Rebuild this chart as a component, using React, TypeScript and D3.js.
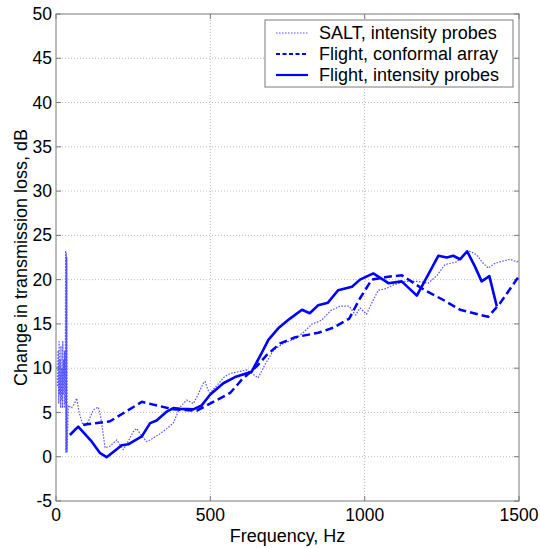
import React, {useEffect, useRef} from 'react'
import * as d3 from 'd3'

// SALT, intensity probes (dotted)
const saltFreq = [5, 7, 9, 10, 12, 13, 15, 16, 18, 19, 21, 22, 24, 25, 27, 28, 30, 31, 32, 33, 34, 35, 36,
  40, 50, 60, 67, 75, 85, 94, 105, 121, 137, 145, 159, 175, 197, 210, 218, 235, 250, 261, 275, 294, 310,
  337, 360, 380, 402, 423, 434, 445, 460, 477, 483, 493, 499, 520, 545, 564, 590, 618, 635, 655, 677, 704,
  736, 775, 800, 830, 860, 890, 920, 950, 970, 985, 1006, 1025, 1044, 1070, 1093, 1131, 1169, 1206, 1235,
  1260, 1298, 1320, 1341, 1363, 1380, 1400, 1420, 1438, 1471, 1493, 1500];
const saltDb = [8, 12, 6, 13, 7, 11, 5.5, 12.5, 6.5, 10, 5.5, 13, 7, 11, 5.5, 12, 6, 23.3, 0.5, 23, 0.8, 22.5, 0.5,
  5.8, 5.5, 6, 6.6, 5, 3.8, 3.4, 4, 5.3, 5.6, 4.5, 1.0, 1.2, 1.9, 1.2, 0.8, 1.8, 2.8, 3.2, 2.5, 1.7, 2.0,
  2.6, 3.2, 3.8, 5.6, 6.4, 6.2, 6.0, 7.0, 8.3, 8.5, 7.5, 7.2, 8.0, 9.0, 9.4, 9.6, 9.8, 9.4, 8.9, 10.4, 12.0,
  12.8, 13.3, 14.0, 15.0, 15.4, 16.5, 17.0, 17.0, 16.0, 16.8, 16.1, 17.5, 18.8, 19.0, 19.4, 19.8, 19.8, 19.6, 20.5,
  21.7, 22.0, 22.8, 23.2, 22.8, 22.0, 21.3, 21.8, 22.0, 22.3, 22.0, 22.2];

// Flight, conformal array (dashed)
const confFreq = [88, 175, 278, 380, 456, 499, 564, 602, 650, 683, 726, 775, 850, 900, 950, 985, 1023,
  1071, 1120, 1195, 1255, 1309, 1400, 1438, 1498];
const confDb = [3.6, 4.0, 6.2, 5.35, 5.2, 6.0, 7.2, 8.7, 10.2, 11.5, 12.8, 13.5, 14.0, 14.6, 15.6, 17.9, 20.0,
  20.3, 20.5, 18.8, 17.7, 16.6, 15.8, 17.3, 20.3];

// Flight, intensity probes (solid)
const flightFreq = [45, 72, 116, 143, 164, 213, 234, 278, 305, 326, 359, 380, 402, 445, 472, 499, 542, 580,
  634, 666, 688, 720, 758, 797, 822, 849, 881, 914, 959, 985, 1028, 1077, 1120, 1169, 1239, 1266, 1287, 1309,
  1332, 1357, 1379, 1404, 1428];
const flightDb = [2.45, 3.4, 1.7, 0.4, -0.05, 1.3, 1.4, 2.3, 3.8, 4.1, 5.1, 5.5, 5.4, 5.35, 5.8, 7.0, 8.3, 9.0,
  9.6, 11.7, 13.2, 14.5, 15.6, 16.6, 16.2, 17.1, 17.4, 18.8, 19.2, 20.0, 20.7, 19.6, 19.8, 18.2, 22.7, 22.5, 22.7, 22.3,
  23.2, 21.5, 19.8, 20.4, 17.0];

const xTicks = [0, 500, 1000, 1500];
const yTicks = [-5, 0, 5, 10, 15, 20, 25, 30, 35, 40, 45, 50];

const legendLabels = ['SALT, intensity probes', 'Flight, conformal array', 'Flight, intensity probes'];

const App = () => {
  const ref = useRef<SVGSVGElement>(null);
  const width = 540, height = 548;
  const margin = {top: 14, right: 21, bottom: 47, left: 56};

  useEffect(() => {
    const svg = d3.select(ref.current);
    svg.selectAll('*').remove();
    const w = width - margin.left - margin.right;
    const h = height - margin.top - margin.bottom;
    const font = 'Arial, "Liberation Sans", sans-serif';

    const x = d3.scaleLinear().domain([0, 1500]).range([0, w]);
    const y = d3.scaleLinear().domain([-5, 50]).range([h, 0]);

    svg.append('rect').attr('width', width).attr('height', height).attr('fill', 'white');

    const g = svg.append('g').attr('transform', `translate(${margin.left},${margin.top})`);

    // grid
    g.append('g').selectAll('line').data(xTicks.slice(1, -1)).enter().append('line')
      .attr('x1', d => x(d)).attr('x2', d => x(d)).attr('y1', 0).attr('y2', h)
      .attr('stroke', '#bdbdbd').attr('stroke-width', 1).attr('stroke-dasharray', '1,2');
    g.append('g').selectAll('line').data(yTicks.slice(1, -1)).enter().append('line')
      .attr('y1', d => y(d)).attr('y2', d => y(d)).attr('x1', 0).attr('x2', w)
      .attr('stroke', '#bdbdbd').attr('stroke-width', 1).attr('stroke-dasharray', '1,2');

    // inward ticks
    const tk = 5;
    yTicks.forEach(t => {
      g.append('line').attr('x1', 0).attr('x2', tk).attr('y1', y(t)).attr('y2', y(t)).attr('stroke', '#7a7a7a');
      g.append('line').attr('x1', w - tk).attr('x2', w).attr('y1', y(t)).attr('y2', y(t)).attr('stroke', '#7a7a7a');
    });
    xTicks.forEach(t => {
      g.append('line').attr('x1', x(t)).attr('x2', x(t)).attr('y1', h).attr('y2', h - tk).attr('stroke', '#7a7a7a');
      g.append('line').attr('x1', x(t)).attr('x2', x(t)).attr('y1', 0).attr('y2', tk).attr('stroke', '#7a7a7a');
    });

    // frame
    g.append('rect').attr('width', w).attr('height', h).attr('fill', 'none')
      .attr('stroke', '#7a7a7a').attr('stroke-width', 1);

    // tick labels
    g.append('g').selectAll('text').data(yTicks).enter().append('text')
      .attr('x', -4).attr('y', d => y(d)).attr('dy', '0.35em').attr('text-anchor', 'end')
      .attr('font-family', font).attr('font-size', 17.5).text(d => d);
    g.append('g').selectAll('text').data(xTicks).enter().append('text')
      .attr('x', d => x(d)).attr('y', h + 20).attr('text-anchor', 'middle')
      .attr('font-family', font).attr('font-size', 17.5).text(d => d);

    // axis labels
    g.append('text').attr('x', w / 2).attr('y', h + 41).attr('text-anchor', 'middle')
      .attr('font-family', font).attr('font-size', 18).text('Frequency, Hz');
    g.append('text').attr('transform', `translate(${-29},${h / 2}) rotate(-90)`).attr('text-anchor', 'middle')
      .attr('font-family', font).attr('font-size', 18).text('Change in transmission loss, dB');

    const line = d3.line<[number, number]>().x(d => x(d[0])).y(d => y(d[1]));
    const styles = [
      {stroke: '#5050ff', width: 1.2, dash: '1.5,1.5'},
      {stroke: '#0000ff', width: 2.5, dash: '8,4'},
      {stroke: '#0000ff', width: 2.6, dash: null},
    ];
    const series: [number, number][][] = [
      saltFreq.map((f, i) => [f, saltDb[i]]),
      confFreq.map((f, i) => [f, confDb[i]]),
      flightFreq.map((f, i) => [f, flightDb[i]]),
    ];

    series.forEach((s, i) => {
      g.append('path').datum(s).attr('fill', 'none')
        .attr('stroke', styles[i].stroke).attr('stroke-width', styles[i].width)
        .attr('stroke-dasharray', styles[i].dash)
        .attr('stroke-linejoin', 'round')
        .attr('d', line);
    });

    // legend
    const lg = svg.append('g').attr('transform', 'translate(265,20)');
    lg.append('rect').attr('width', 248).attr('height', 67).attr('fill', 'white')
      .attr('stroke', '#7a7a7a').attr('stroke-width', 1);
    legendLabels.forEach((lab, i) => {
      const yy = 13 + i * 21;
      lg.append('line').attr('x1', 11).attr('x2', 43).attr('y1', yy).attr('y2', yy)
        .attr('stroke', styles[i].stroke).attr('stroke-width', i === 0 ? 1.2 : 2.2)
        .attr('stroke-dasharray', i === 0 ? '1.5,1.5' : i === 1 ? '4,2.5' : null);
      lg.append('text').attr('x', 54).attr('y', yy).attr('dy', '0.35em')
        .attr('font-family', font).attr('font-size', 18).text(lab);
    });

    return () => { svg.selectAll('*').remove() }
  }, []);

  return (
    <svg ref={ref} width={width} height={height} style={{position: 'absolute', left: 0, top: 0}}>
    </svg>
  )
};

export default App
